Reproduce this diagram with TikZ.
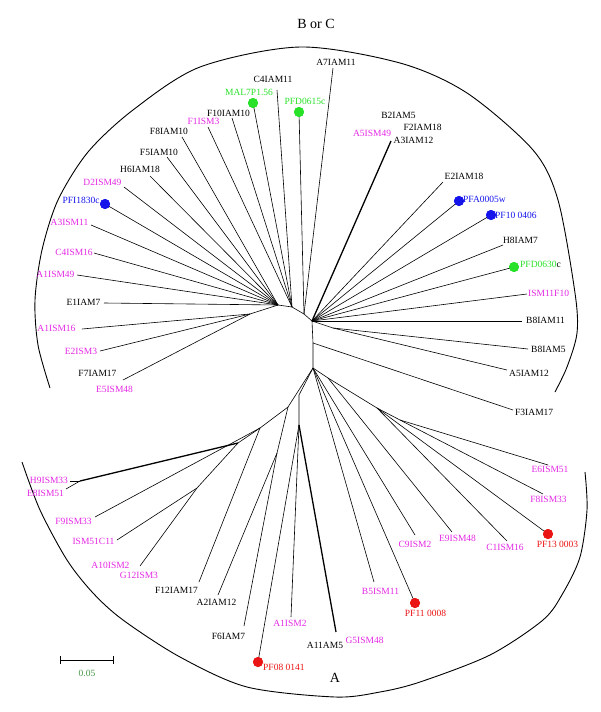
\documentclass[tikz,border=0pt]{standalone}
\usepackage{fontspec}
\setmainfont{Liberation Serif}
\definecolor{mag}{RGB}{228,40,228}
\definecolor{blu}{RGB}{20,20,235}
\definecolor{grn}{RGB}{40,225,40}
\definecolor{rd}{RGB}{235,20,20}
\definecolor{dgrn}{RGB}{70,150,70}
\begin{document}
\begin{tikzpicture}[x=1pt,y=-1pt,
  br/.style={line width=0.6pt},
  boldbr/.style={line width=1.3pt},
  arcline/.style={line width=0.9pt},
  lab/.style={inner sep=0pt,font=\fontsize{9.5}{11}\selectfont},
  big/.style={inner sep=0pt,font=\fontsize{14}{16}\selectfont},
  dotn/.style={circle,inner sep=0pt,minimum size=10pt}]
\useasboundingbox (0,0) rectangle (600,712);

% ---- arcs ----
\draw[arcline] plot[smooth] coordinates {(50,388) (38,345) (35,300) (42,250) (58,200) (88,152) (133,110) (200,67) (300,47) (400,63) (467,93) (533,150) (558,200) (575,293) (577,333) (567,367) (555,392)};
\draw[arcline] plot[smooth] coordinates {(22,462) (40,510) (67,560) (93,593) (123,620) (180,657) (247,687) (335,697) (380,692) (420,682) (490,655) (543,620) (563,593) (580,557) (587,510) (585,472)};

% ---- internal nodes ----
\coordinate (c1) at (278,305);
\coordinate (c2) at (292,307);
\coordinate (c2b) at (304,314);
\coordinate (c3) at (312,321);
\coordinate (c4) at (313,343);
\coordinate (c5) at (313,368);
\coordinate (a1) at (250,314);
\coordinate (b2) at (333,328);
\coordinate (d1) at (328,378);
\coordinate (d2) at (377,408);
\coordinate (d3) at (400,420);
\coordinate (e1) at (288,407);
\coordinate (e2) at (277,453);
\coordinate (e3) at (260,428);
\coordinate (e4) at (238,443);
\coordinate (e5) at (197,488);
\coordinate (h) at (80,481);
\coordinate (q) at (299,395);
\coordinate (q2) at (299,425);

% ---- leaf ends ----
\coordinate (tD2) at (124,187);
\coordinate (tH6) at (150,176);
\coordinate (tF5) at (167,157);
\coordinate (tF8) at (182,137);
\coordinate (tF1) at (208,127);
\coordinate (tF10) at (232,118);
\coordinate (tC4) at (277,90);
\coordinate (tA7) at (333,68);
\coordinate (tA3) at (391,141);
\coordinate (tE2) at (443,182);
\coordinate (tH8) at (503,245);
\coordinate (tISM) at (527,294);
\coordinate (tB8a) at (522,321);
\coordinate (tB8b) at (528,349);
\coordinate (tA5) at (507,370);
\coordinate (tF3) at (513,410);
\coordinate (tE6) at (548,465);
\coordinate (tF8S) at (543,494);
\coordinate (tC1) at (507,541);
\coordinate (tE9) at (452,532);
\coordinate (tC9) at (415,535);
\coordinate (tB5) at (374,582);
\coordinate (tA11) at (336,632);
\coordinate (tA1S2) at (291,617);
\coordinate (tF6) at (244,626);
\coordinate (tA2) at (218,595);
\coordinate (tF12) at (199,582);
\coordinate (tA10) at (140,566);
\coordinate (tISM51) at (117,540);
\coordinate (tF9) at (95,517);
\coordinate (tH9) at (70,481);
\coordinate (tE8) at (66,489);
\coordinate (tA3S) at (91,225);
\coordinate (tC4S) at (94,253);
\coordinate (tA1S49) at (77,275);
\coordinate (tE1) at (104,303);
\coordinate (tA1S16) at (82,329);
\coordinate (tE2S) at (100,351);
\coordinate (tF7) at (123,380);

% ---- dots ----
\node[dotn,fill=blu] (pfi) at (105,204) {};
\node[dotn,fill=grn] (mal) at (253,103) {};
\node[dotn,fill=grn] (pfd615) at (299,112) {};
\node[dotn,fill=blu] (pfa) at (459,201) {};
\node[dotn,fill=blu] (pf10) at (491,215) {};
\node[dotn,fill=grn] (pfd630) at (514,267) {};
\node[dotn,fill=rd] (pf13) at (548,534) {};
\node[dotn,fill=rd] (pf11) at (415,603) {};
\node[dotn,fill=rd] (pf08) at (258,662) {};

% ---- backbone ----
\draw[br] (c1) -- (c2) -- (c2b) -- (c3) -- (c4) -- (c5);
\draw[br] (c1) -- (a1);
\draw[br] (c3) -- (b2);
\draw[br] (c5) -- (d1) -- (d2) -- (d3);
\draw[br] (c5) -- (e1) -- (e3) -- (e4) -- (e5);
\draw[br] (e1) -- (e2);
\draw[br] (c5) -- (q) -- (q2);

% ---- branches ----
\draw[br] (pfi.center) -- (c1);
\draw[br] (tA3S) -- (c1);
\draw[br] (tC4S) -- (c1);
\draw[br] (tA1S49) -- (c1);
\draw[br] (tE1) -- (c1);
\draw[br] (tD2) -- (c1);
\draw[br] (tH6) -- (c1);
\draw[br] (tF5) -- (c1);
\draw[br] (tF8) -- (c1);
\draw[br] (tF1) -- (c2);
\draw[br] (tF10) -- (c2);
\draw[br] (mal.center) -- (c2);
\draw[br] (tC4) -- (c2);
\draw[br] (pfd615.center) -- (c2b);
\draw[br] (tA7) -- (c2b);
\draw[boldbr] (tA3) -- (c3);
\draw[br] (tE2) -- (c3);
\draw[br] (pfa.center) -- (c3);
\draw[br] (pf10.center) -- (c3);
\draw[br] (tH8) -- (c3);
\draw[br] (pfd630.center) -- (c3);
\draw[br] (tISM) -- (c3);
\draw[br] (tB8a) -- (c3);
\draw[br] (tB8b) -- (b2);
\draw[br] (tA5) -- (b2);
\draw[br] (tF3) -- (c4);
\draw[br] (tA1S16) -- (a1);
\draw[br] (tE2S) -- (a1);
\draw[br] (tF7) -- (a1);
\draw[br] (tE6) -- (d3);
\draw[br] (tF8S) -- (d3);
\draw[br] (pf13.center) -- (d2);
\draw[br] (tC1) -- (d2);
\draw[br] (tE9) -- (d1);
\draw[br] (tC9) -- (c5);
\draw[br] (tB5) -- (c5);
\draw[br] (pf11.center) -- (c5);
\draw[boldbr] (tA11) -- (q2);
\draw[br] (tA1S2) -- (q2);
\draw[br] (pf08.center) -- (q2);
\draw[br] (tF6) -- (e2);
\draw[br] (tA2) -- (e2);
\draw[br] (tF12) -- (e3);
\draw[br] (tF9) -- (e3);
\draw[boldbr] (h) -- (e4);
\draw[br] (tH9) -- (h);
\draw[br] (tE8) -- (h);
\draw[br] (tISM51) -- (e5);
\draw[br] (tA10) -- (e5);

% redraw dots on top
\foreach \n/\c in {pfi/blu,mal/grn,pfd615/grn,pfa/blu,pf10/blu,pfd630/grn,pf13/rd,pf11/rd,pf08/rd}
  \fill[\c] (\n) circle (5pt);

% ---- labels ----
\node[lab,text=blu] (lPFI) at (81,200) {PFI1830c};
\node[lab,text=mag] (lD2) at (102.5,182) {D2ISM49};
\node[lab] (lH6) at (140,169) {H6IAM18};
\node[lab] (lF5) at (159,152) {F5IAM10};
\node[lab] (lF8) at (169,131) {F8IAM10};
\node[lab,text=mag] (lF1) at (203.5,121) {F1ISM3};
\node[lab] (lF10) at (228.5,113) {F10IAM10};
\node[lab,text=grn] (lMAL) at (249,92) {MAL7P1.56};
\node[lab] (lC4) at (273,79) {C4IAM11};
\node[lab,text=grn] (lPFD615) at (305,101) {PFD0615c};
\node[lab] (lA7) at (336,62) {A7IAM11};
\node[lab] (lB2) at (398.5,115) {B2IAM5};
\node[lab] (lF2) at (422.5,127) {F2IAM18};
\node[lab,text=mag] (lA5S) at (372,133) {A5ISM49};
\node[lab] (lA3) at (413.5,140) {A3IAM12};
\node[lab] (lE2) at (464,176) {E2IAM18};
\node[lab,text=blu,anchor=west] (lPFA) at (463,199) {PFA0005w};
\node[lab,text=blu,anchor=west] (lPF10) at (495,215) {PF10 0406};
\node[lab] (lH8) at (520.5,240) {H8IAM7};
\node[lab,anchor=west] (lPFD630) at (520,264) {\textcolor{grn}{PFD0630}c};
\node[lab,text=mag,anchor=west] (lISM) at (528,293) {ISM11F10};
\node[lab,anchor=west] (lB8a) at (526,320) {B8IAM11};
\node[lab,anchor=west] (lB8b) at (531,349) {B8IAM5};
\node[lab,anchor=west] (lA5) at (509,373) {A5IAM12};
\node[lab,anchor=west] (lF3) at (515,412) {F3IAM17};
\node[lab,text=mag] (lE6) at (550,469) {E6ISM51};
\node[lab,text=mag] (lF8S) at (548.5,499) {F8ISM33};
\node[lab,text=rd] (lPF13) at (557.5,544) {PF13 0003};
\node[lab,text=mag] (lC1) at (505,547) {C1ISM16};
\node[lab,text=mag] (lE9) at (457.5,538) {E9ISM48};
\node[lab,text=mag] (lC9) at (415,544) {C9ISM2};
\node[lab,text=mag] (lB5) at (380.5,591) {B5ISM11};
\node[lab,text=rd] (lPF11) at (425.5,613) {PF11 0008};
\node[lab,text=mag] (lG5) at (364.5,640) {G5ISM48};
\node[lab] (lA11) at (325,645) {A11AM5};
\node[lab,text=mag] (lA1S2) at (290,623) {A1ISM2};
\node[lab,text=rd,anchor=west] (lPF08) at (263,667) {PF08 0141};
\node[lab] (lF6) at (228.5,636) {F6IAM7};
\node[lab] (lA2) at (216.5,602) {A2IAM12};
\node[lab] (lF12) at (176.5,590) {F12IAM17};
\node[lab,text=mag] (lA10) at (110.5,565) {A10ISM2};
\node[lab,text=mag] (lG12) at (139,575) {G12ISM3};
\node[lab,text=mag] (lISM51) at (93.5,541) {ISM51C11};
\node[lab,text=mag] (lF9) at (73.5,521) {F9ISM33};
\node[lab,text=mag] (lH9) at (49,480) {H9ISM33};
\node[lab,text=mag] (lE8) at (45.5,493) {E8ISM51};
\node[lab,text=mag] (lA3S) at (69.5,222) {A3ISM11};
\node[lab,text=mag] (lC4S) at (74,252) {C4ISM16};
\node[lab,text=mag] (lA1S49) at (55.5,274) {A1ISM49};
\node[lab] (lE1) at (83.5,302) {E1IAM7};
\node[lab,text=mag] (lA1S16) at (56.5,328) {A1ISM16};
\node[lab,text=mag] (lE2S) at (81,351) {E2ISM3};
\node[lab] (lF7) at (97.5,373) {F7IAM17};
\node[lab,text=mag] (lE5) at (114.5,389) {E5ISM48};

% ---- titles ----
\node[big] (tBC) at (316,24) {B or C};
\node[big] (tA) at (335,678) {A};

% ---- scale bar ----
\coordinate (s1) at (60,660);
\coordinate (s2) at (113,660);
\draw[line width=1pt] (s1) -- (s2);
\draw[line width=1pt] ([yshift=-4pt]s1) -- ([yshift=4pt]s1);
\draw[line width=1pt] ([yshift=-4pt]s2) -- ([yshift=4pt]s2);
\node[lab,text=dgrn] (sc) at (87,673) {0.05};
\end{tikzpicture}
\end{document}
